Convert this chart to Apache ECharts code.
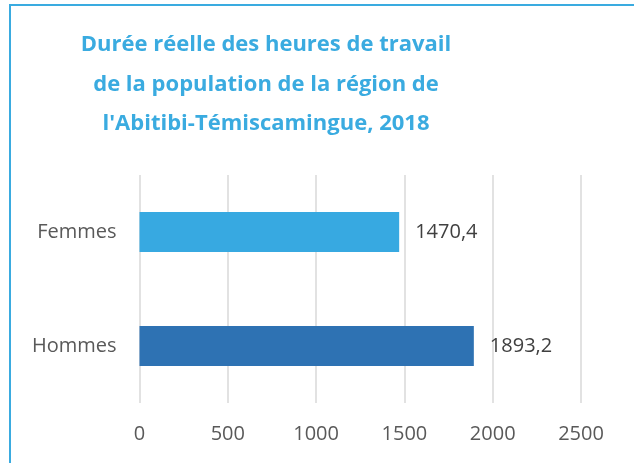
<!DOCTYPE html>
<html>
<head>
<meta charset="utf-8">
<script src="https://cdn.jsdelivr.net/npm/echarts@6/dist/echarts.min.js"></script>
<style>
  html, body { margin: 0; padding: 0; background: #fff; }
  #chart { width: 634px; height: 463px; }
</style>
</head>
<body>
<div id="chart"></div>
<script>
// données du graphique
const categories = ['Femmes', 'Hommes']
const values = [1470.4, 1893.2]
const barColors = ['#37a9e1', '#2e72b3']
const titleText = 'Durée réelle des heures de travail\nde la population de la région de\nl\'Abitibi-Témiscamingue, 2018'

const chart = echarts.init(document.getElementById('chart'))

const option = {
  animation: false,
  graphic: [
    {
      // cadre du graphique (bord haut et gauche visibles)
      type: 'rect',
      shape: { x: 10, y: 5, width: 800, height: 600 },
      style: { fill: 'none', stroke: '#3aabe0', lineWidth: 2 },
      silent: true
    },
    {
      type: 'text',
      x: 266,
      y: 25,
      style: {
        text: titleText,
        textAlign: 'center',
        textVerticalAlign: 'top',
        fontFamily: 'Open Sans',
        fontWeight: 'bold',
        fontSize: 22,
        lineHeight: 39.5,
        fill: '#3aabe0'
      }
    }
  ],
  grid: {
    left: 139.5,
    right: 53,
    top: 175,
    bottom: 60,
    containLabel: false
  },
  xAxis: {
    type: 'value',
    min: 0,
    max: 2500,
    interval: 500,
    axisLine: { show: false },
    axisTick: { show: false },
    axisLabel: {
      margin: 21,
      color: '#595959',
      fontFamily: 'Open Sans',
      fontSize: 20,
      formatter: v => String(v)
    },
    splitLine: { lineStyle: { color: '#d9d9d9', width: 1.5 } }
  },
  yAxis: {
    type: 'category',
    inverse: true,
    data: categories,
    axisLine: { show: false },
    axisTick: { show: false },
    axisLabel: {
      margin: 23,
      color: '#595959',
      fontFamily: 'Open Sans',
      fontSize: 20
    }
  },
  series: [
    {
      type: 'bar',
      barWidth: 40,
      data: values.map((v, i) => ({ value: v, itemStyle: { color: barColors[i] } })),
      label: {
        show: true,
        position: 'right',
        distance: 16,
        color: '#404040',
        fontFamily: 'Open Sans',
        fontSize: 20,
        formatter: p => String(p.value).replace('.', ',')
      }
    }
  ]
}

chart.setOption(option)
</script>
</body>
</html>
